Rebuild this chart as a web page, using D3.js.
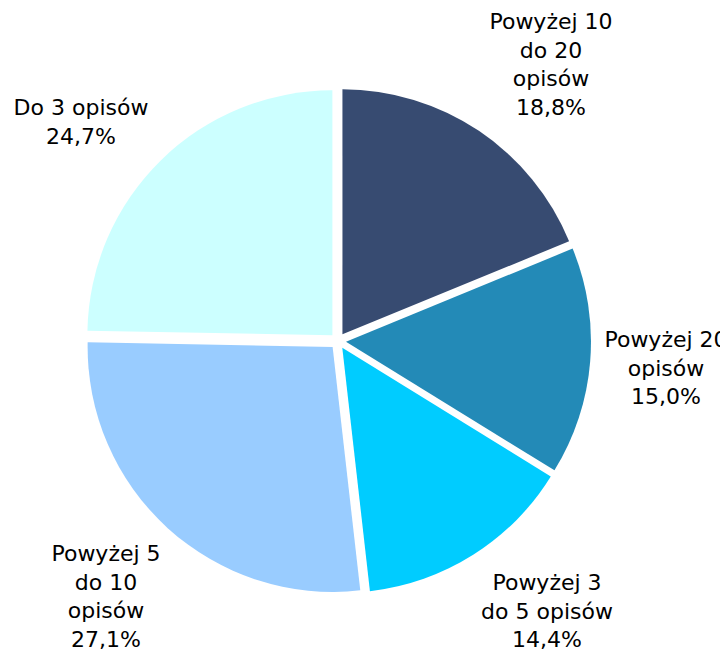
<!DOCTYPE html>
<html>
<head>
<meta charset="utf-8">
<script src="https://cdn.jsdelivr.net/npm/d3@7"></script>
<style>
  body { margin: 0; background: #fff; }
  svg { display: block; }
  text { font-family: Verdana, "DejaVu Sans", sans-serif; font-size: 22px; fill: #000; }
</style>
</head>
<body>
<div id="chart"></div>
<script>
// categories and shares (%), clockwise from 12 o'clock
var categories = [
	["Powyżej 10", "do 20", "opisów"],
	["Powyżej 20", "opisów"],
	["Powyżej 3", "do 5 opisów"],
	["Powyżej 5", "do 10", "opisów"],
	["Do 3 opisów"]
];
var shares = [18.8, 15.0, 14.4, 27.1, 24.7];
var colors = ["#374b71", "#238ab7", "#00ccff", "#99ccff", "#ccffff"];

var width = 720, height = 651;
var cx = 338, cy = 341, radius = 245, explode = 8;

// label anchors (centre x, first baseline) set by hand like Excel does
var labelAnchors = [
	[551, 29],
	[666, 347],
	[547, 590],
	[106, 561],
	[81, 115]
];
var lineStep = 28.5;

var svg = d3.select("#chart").append("svg")
	.attr("width", width)
	.attr("height", height);

var pie = d3.pie().sort(null).value(function(d){ return d; });
var arcs = pie(shares);

var arc = d3.arc().innerRadius(0).outerRadius(radius);

var g = svg.append("g").attr("transform", "translate(" + cx + "," + cy + ")");

g.selectAll("path")
	.data(arcs)
	.enter()
	.append("path")
	.attr("transform", function(d){
		var mid = (d.startAngle + d.endAngle) / 2;
		return "translate(" + (Math.sin(mid) * explode) + "," + (-Math.cos(mid) * explode) + ")";
	})
	.attr("d", arc)
	.attr("fill", function(d, i){ return colors[i]; });

var fmt = function(v){ return v.toFixed(1).replace(".", ",") + "%"; };

var labels = svg.selectAll("text.lbl")
	.data(arcs)
	.enter()
	.append("text")
	.attr("class", "lbl")
	.attr("text-anchor", "middle")
	.attr("transform", function(d, i){
		return "translate(" + labelAnchors[i][0] + "," + labelAnchors[i][1] + ")";
	});

labels.each(function(d, i){
	var lines = categories[i].concat([fmt(shares[i])]);
	d3.select(this).selectAll("tspan")
		.data(lines)
		.enter()
		.append("tspan")
		.attr("x", 0)
		.attr("y", function(l, j){ return j * lineStep; })
		.text(function(l){ return l; });
});
</script>
</body>
</html>
